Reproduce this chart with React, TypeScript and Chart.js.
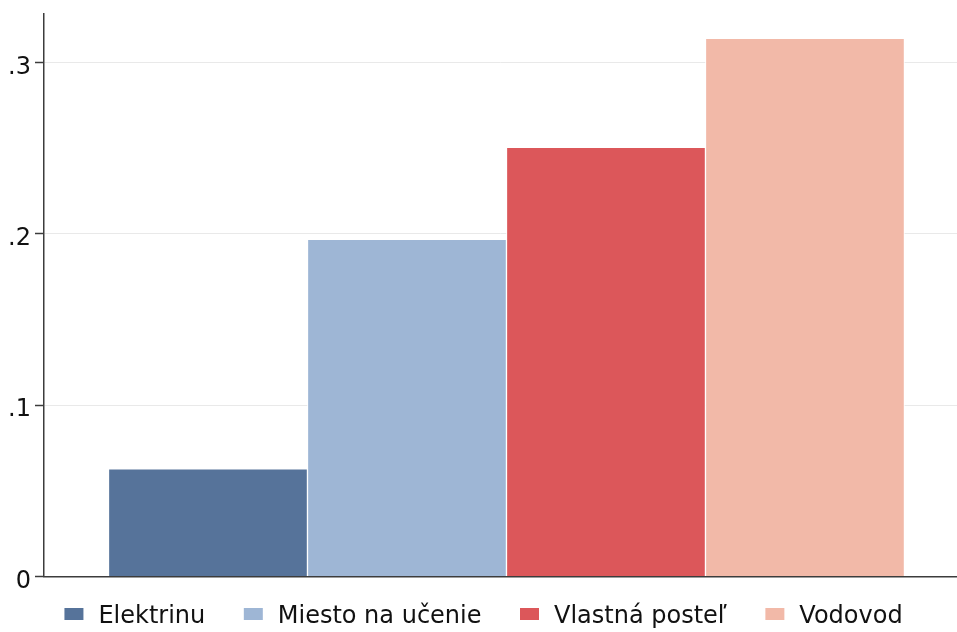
import { useEffect, useRef } from "react";
import { Chart, registerables } from "chart.js";

Chart.register(...registerables);

const categories = ["Elektrinu", "Miesto na učenie", "Vlastná posteľ", "Vodovod"];
const values = [0.0628, 0.1968, 0.2506, 0.3142];
const colors = ["#56739A", "#9EB6D5", "#DC575A", "#F2B9A8"];
const yTickValues = [0, 0.1, 0.2, 0.3];
const yTickLabels = ["0", ".1", ".2", ".3"];

const FONT = "'DejaVu Sans', sans-serif";
const AXIS = "#3c3c3c";

function makeMarker(color: string) {
  const c = document.createElement("canvas");
  c.width = 32;
  c.height = 18;
  const ctx = c.getContext("2d");
  if (ctx) {
    ctx.fillStyle = color;
    ctx.fillRect(10, 0, 19, 12);
  }
  return c;
}

export default function App() {
  const ref = useRef<HTMLCanvasElement | null>(null);

  useEffect(() => {
    if (!ref.current) return;
    const markers = colors.map(makeMarker);
    const chart = new Chart(ref.current, {
      type: "bar",
      data: {
        datasets: categories.map((label, i) => ({
          label,
          data: [{ x: i, y: values[i] }],
          backgroundColor: colors[i],
          borderColor: "#ffffff",
          borderWidth: 1,
          borderSkipped: "start",
          grouped: false,
          barPercentage: 1,
          categoryPercentage: 1,
        })),
      } as any,
      options: {
        animation: false,
        responsive: false,
        devicePixelRatio: 1,
        layout: { padding: { top: 14, right: 0, bottom: -7, left: 0 } },
        scales: {
          x: {
            type: "linear",
            offset: false,
            min: -0.824,
            max: 3.764,
            grid: { display: false, drawTicks: false, offset: false },
            border: { display: true, color: AXIS, width: 1.5 },
            ticks: { display: false },
            afterBuildTicks: (s: any) => {
              s.ticks = categories.map((_, i) => ({ value: i }));
            },
            afterFit: (s: any) => {
              s.height = 0;
            },
          },
          y: {
            min: 0,
            max: 0.3284,
            grid: {
              color: "#e9e9e9",
              lineWidth: 1,
              tickLength: 9,
              tickColor: AXIS,
              tickWidth: 1.5,
            },
            border: { display: true, color: AXIS, width: 1.5 },
            ticks: {
              padding: 4,
              labelOffset: 5,
              color: "#111",
              font: { family: FONT, size: 24 },
              callback: (v: any) => {
                const i = yTickValues.findIndex((t) => Math.abs(t - Number(v)) < 1e-9);
                return i >= 0 ? yTickLabels[i] : "";
              },
            },
            afterBuildTicks: (s: any) => {
              s.ticks = yTickValues.map((v) => ({ value: v }));
            },
            afterFit: (s: any) => {
              s.width = 44;
              s.paddingTop = 0;
              s.paddingBottom = 0;
            },
          },
        },
        plugins: {
          legend: {
            position: "bottom",
            labels: {
              usePointStyle: true,
              pointStyleWidth: 32,
              boxHeight: 12,
              padding: 28.5,
              color: "#111",
              font: { family: FONT, size: 24 },
              generateLabels: (ch: any) =>
                (Chart.defaults.plugins.legend.labels as any)
                  .generateLabels(ch)
                  .map((l: any, i: number) => ({ ...l, pointStyle: markers[i], lineWidth: 0 })),
            },
          },
          tooltip: { enabled: false },
        },
      } as any,
    });
    return () => chart.destroy();
  }, []);

  return (
    <div style={{ position: "absolute", left: 0, top: 0, width: 957, height: 632 }}>
      <canvas ref={ref} width={957} height={632} style={{ display: "block" }} />
    </div>
  );
}
